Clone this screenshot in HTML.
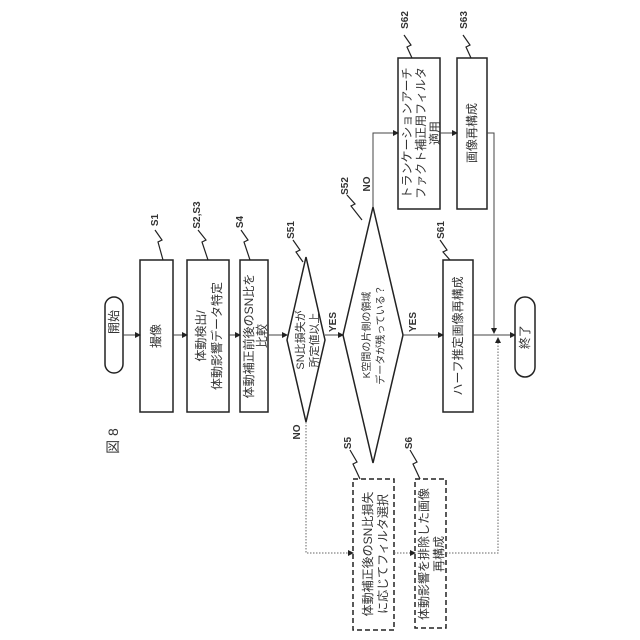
<!DOCTYPE html>
<html><head><meta charset="utf-8"><style>
html,body{margin:0;padding:0;background:#fff;}
svg{display:block;}
text{font-family:"Liberation Sans","Noto Sans CJK JP",sans-serif;fill:#333;}
</style></head><body>
<svg width="640" height="640" viewBox="0 0 640 640" xmlns="http://www.w3.org/2000/svg">
<defs>
<marker id="a" markerWidth="6" markerHeight="6" refX="5" refY="3" orient="auto" markerUnits="userSpaceOnUse"><path d="M0,0 L6,3 L0,6 z" fill="#222"/></marker>
</defs>
<g stroke="#222" stroke-width="1.5" fill="none">
<rect x="105" y="297" width="18" height="76" rx="9"/>
<rect x="140" y="260" width="33" height="152"/>
<rect x="187" y="260" width="42" height="152"/>
<rect x="240" y="260" width="28" height="152"/>
<polygon points="287,340 306,257 325,340 306,422"/>
<polygon points="343,335 373,207 403,335 373,463"/>
<rect x="443" y="260" width="30" height="152"/>
<rect x="398" y="58" width="42" height="151"/>
<rect x="457" y="58" width="30" height="151"/>
<rect x="515" y="297" width="20" height="80" rx="10"/>
<rect x="353" y="479" width="41" height="151" stroke-dasharray="5,3"/>
<rect x="415" y="479" width="31" height="149" stroke-dasharray="5,3"/>
</g>
<g stroke="#444" stroke-width="1" fill="none" marker-end="url(#a)">
<line x1="123" y1="335" x2="140" y2="335"/>
<line x1="173" y1="335" x2="187" y2="335"/>
<line x1="229" y1="335" x2="240" y2="335"/>
<line x1="268" y1="335" x2="287" y2="335"/>
<line x1="325" y1="335" x2="343" y2="335"/>
<line x1="403" y1="335" x2="443" y2="335"/>
<line x1="473" y1="335" x2="515" y2="335"/>
<polyline points="373,207 373,133 398,133"/>
<line x1="440" y1="133" x2="457" y2="133"/>
<polyline points="487,133 494,133 494,333"/>
</g>
<g stroke="#666" stroke-width="1" fill="none" stroke-dasharray="1.5,1.5" marker-end="url(#a)">
<polyline points="306,422 306,553 353,553"/>
<line x1="394" y1="553" x2="415" y2="553"/>
<polyline points="446,553 498,553 498,338"/>
</g>
<g stroke="#222" stroke-width="1.2" fill="none">
<path d="M155,230 L162,240 L158,242 L163,260"/>
<path d="M198,230 L206,240 L202,242 L208,260"/>
<path d="M241,230 L248,240 L244,242 L250,260"/>
<path d="M293,240 L300,250 L296,252 L303,262"/>
<path d="M347,195 L355,204 L351,206 L362,220"/>
<path d="M440,240 L447,250 L443,252 L450,260"/>
<path d="M404,35 L411,45 L407,47 L412,58"/>
<path d="M463,35 L470,45 L466,47 L471,58"/>
<path d="M350,450 L357,462 L353,464 L360,479"/>
<path d="M410,450 L417,462 L413,464 L420,479"/>
</g>
<g font-size="10" font-weight="bold" text-anchor="middle">
<text transform="translate(158,220) rotate(-90)">S1</text>
<text transform="translate(200,215) rotate(-90)">S2,S3</text>
<text transform="translate(243,222) rotate(-90)">S4</text>
<text transform="translate(294,230) rotate(-90)">S51</text>
<text transform="translate(348,186) rotate(-90)">S52</text>
<text transform="translate(444,230) rotate(-90)">S61</text>
<text transform="translate(408,20) rotate(-90)">S62</text>
<text transform="translate(467,20) rotate(-90)">S63</text>
<text transform="translate(351,443) rotate(-90)">S5</text>
<text transform="translate(412,443) rotate(-90)">S6</text>
<text transform="translate(336,322) rotate(-90)">YES</text>
<text transform="translate(300,432) rotate(-90)">NO</text>
<text transform="translate(416,322) rotate(-90)">YES</text>
<text transform="translate(370,184) rotate(-90)">NO</text>
</g>
<g font-size="12" text-anchor="middle">
<text transform="translate(118,441) rotate(-90)" font-size="14">図 8</text>
<text transform="translate(118,322) rotate(-90)">開始</text>
<text transform="translate(160,336) rotate(-90)">撮像</text>
<text transform="translate(205,336) rotate(-90)">体動検出/</text>
<text transform="translate(221,336) rotate(-90)">体動影響データ特定</text>
<text transform="translate(253,336) rotate(-90)">体動補正前後のSN比を</text>
<text transform="translate(266,336) rotate(-90)">比較</text>
<text transform="translate(304,340) rotate(-90)" font-size="11">SN比損失が</text>
<text transform="translate(318,340) rotate(-90)" font-size="11">所定値以上</text>
<text transform="translate(370,335) rotate(-90)" font-size="10">K空間の片側の領域</text>
<text transform="translate(384,335) rotate(-90)" font-size="10">データが残っている？</text>
<text transform="translate(462,336) rotate(-90)">ハーフ推定画像再構成</text>
<text transform="translate(411,133) rotate(-90)">トランケーションアーチ</text>
<text transform="translate(425,133) rotate(-90)">ファクト補正用フィルタ</text>
<text transform="translate(439,133) rotate(-90)">適用</text>
<text transform="translate(476,133) rotate(-90)">画像再構成</text>
<text transform="translate(529,337) rotate(-90)">終了</text>
<text transform="translate(372,554) rotate(-90)">体動補正後のSN比損失</text>
<text transform="translate(387,554) rotate(-90)">に応じてフィルタ選択</text>
<text transform="translate(428,554) rotate(-90)">体動影響を排除した画像</text>
<text transform="translate(443,554) rotate(-90)">再構成</text>
</g>
</svg>
</body></html>
